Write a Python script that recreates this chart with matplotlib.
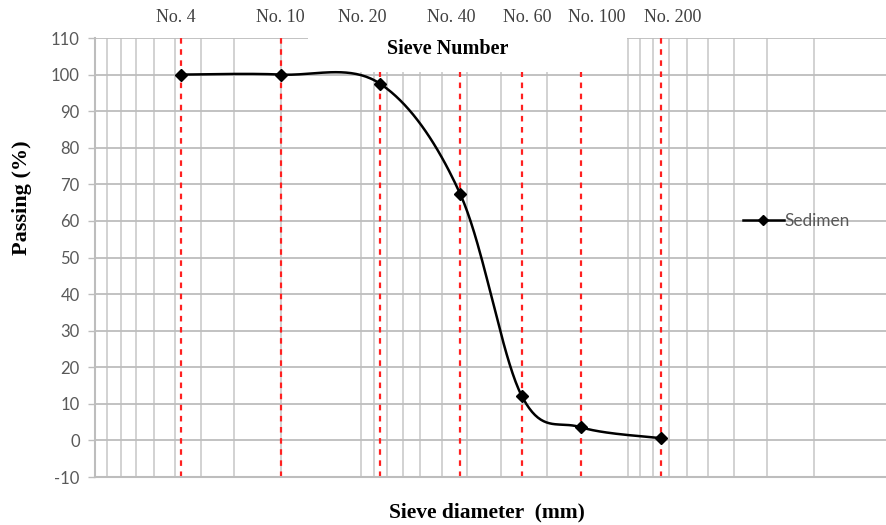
import numpy as np
import matplotlib
matplotlib.use('Agg')
import matplotlib.pyplot as plt
from matplotlib.patches import Rectangle
plt.rcParams['axes.unicode_minus'] = False

# sieve data
sieve_names = ['No. 4', 'No. 10', 'No. 20', 'No. 40', 'No. 60', 'No. 100', 'No. 200']
diameter = [4.75, 2.0, 0.85, 0.425, 0.25, 0.15, 0.075]
passing = [100, 100, 97.5, 67.3, 12.2, 3.6, 0.6]
# positions of the sieve-number labels on top (pixels)
label_x = [176, 280, 362, 451, 527, 597, 673]

W, H = 886, 525
fig = plt.figure(figsize=(W / 100, H / 100), dpi=100)
ax = fig.add_axes([95 / W, 1 - 477 / H, (894 - 95) / W, (477 - 38) / H])

ax.set_xscale('log')
ax.set_xlim(10, 0.01)
ax.set_ylim(-10, 110)
ax.set_yticks(np.arange(-10, 111, 10))
ax.set_axisbelow(True)
ax.grid(which='both', axis='x', color='#cfcfcf', lw=1.3)
ax.grid(which='major', axis='y', color='#bdbdbd', lw=1.3)
ax.tick_params(axis='x', which='both', length=0, labelbottom=False)
ax.tick_params(axis='y', length=5, color='#bdbdbd', width=1, colors='#595959',
               labelsize=12, pad=6)
for lab in ax.get_yticklabels():
    lab.set_family('Lato')
for s in ['top', 'right']:
    ax.spines[s].set_visible(False)
for s in ['left', 'bottom']:
    ax.spines[s].set_color('#bdbdbd')
    ax.spines[s].set_linewidth(1.5)

# red dashed sieve lines
for d in diameter:
    ax.axvline(d, color='#ff2020', ls=(0, (2.5, 2.5)), lw=1.6, zorder=1)

# white box behind "Sieve Number"
ax.add_patch(Rectangle((308 / W, 1 - 72 / H), (627 - 308) / W, 72 / H,
                       transform=fig.transFigure, facecolor='white',
                       edgecolor='none', clip_on=False, zorder=2))


# smooth line like Excel (Catmull-Rom in screen units)
def smooth(xs, ys, n=40):
    u = np.log10(xs) * 266.0
    v = np.array(ys) * 3.66
    P = np.column_stack([u, v])
    out = []
    for i in range(len(P) - 1):
        p0 = P[i - 1] if i > 0 else P[i]
        p1, p2 = P[i], P[i + 1]
        p3 = P[i + 2] if i + 2 < len(P) else P[i + 1]
        c1 = p1 + (p2 - p0) / 6
        c2 = p2 - (p3 - p1) / 6
        t = np.linspace(0, 1, n)[:, None]
        seg = ((1 - t) ** 3) * p1 + 3 * ((1 - t) ** 2) * t * c1 + 3 * (1 - t) * t ** 2 * c2 + t ** 3 * p2
        out.append(seg)
    out = np.vstack(out)
    return 10 ** (out[:, 0] / 266.0), out[:, 1] / 3.66


sx, sy = smooth(diameter, passing)
ax.plot(sx, sy, color='black', lw=1.8, zorder=3)
ax.plot(diameter, passing, ls='none', marker='D', ms=6, color='black', zorder=4)
# legend handle
ax.plot([], [], color='black', lw=1.8, marker='D', ms=5, label='Sedimen')
leg = ax.legend(loc='center left', bbox_to_anchor=((727 - 95) / (894 - 95), 70 / 120),
                frameon=False, handlelength=2.4, handletextpad=0.05,
                prop={'family': 'Lato', 'size': 12.4})
for t in leg.get_texts():
    t.set_color('#595959')

# text
for name, lx in zip(sieve_names, label_x):
    fig.text(lx / W, 1 - 17 / H, name, ha='center', va='center',
             family='Liberation Serif', fontsize=13, color='#404040')
fig.text(448 / W, 1 - 49 / H, 'Sieve Number', ha='center', va='center',
         family='Liberation Serif', fontweight='bold', fontsize=14.5)
fig.text(22 / W, 1 - 198 / H, 'Passing (%)', ha='center', va='center', rotation=90,
         family='Liberation Serif', fontweight='bold', fontsize=16)
fig.text(487 / W, 1 - 512 / H, 'Sieve diameter  (mm)', ha='center', va='center',
         family='Liberation Serif', fontweight='bold', fontsize=15.5)

fig.savefig('out.png', dpi=100)
